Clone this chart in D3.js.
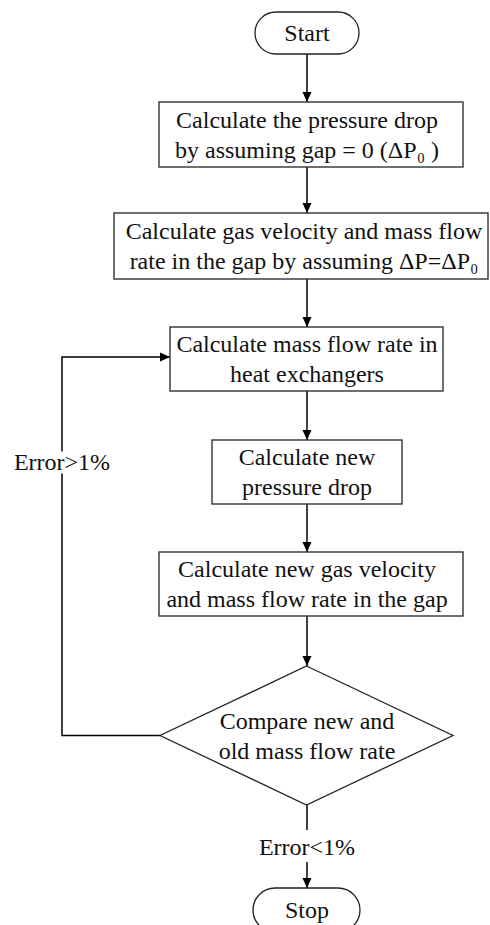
<!DOCTYPE html>
<html>
<head>
<meta charset="utf-8">
<script src="https://cdn.jsdelivr.net/npm/d3@7"></script>
<style>
  html, body { margin: 0; padding: 0; background: #fff; }
  svg { display: block; }
  text { font-family: "Liberation Serif", "Times New Roman", serif; fill: #111; }
</style>
</head>
<body>
<svg id="chart" width="490" height="925"></svg>
<script>
// ---- content ----
const startLabel = ["Start"];
const stopLabel = ["Stop"];
const box1Label = ["Calculate the pressure drop", "by assuming gap = 0 (\u0394P\u2080 )"];
const box2Label = ["Calculate gas velocity and mass flow", "rate in the gap by assuming \u0394P=\u0394P\u2080"];
const box3Label = ["Calculate mass flow rate in", "heat exchangers"];
const box4Label = ["Calculate new", "pressure drop"];
const box5Label = ["Calculate new gas velocity", "and mass flow rate in the gap"];
const decisionLabel = ["Compare new and", "old mass flow rate"];
const loopLabel = ["Error>1%"];
const exitLabel = ["Error<1%"];

// ---- layout (kept separate from content) ----
const W = 490, H = 925;
const cx = 307;
const layout = {
  start:  {x0: 255, x1: 359, y0: 12,  y1: 54,  shape: "term"},
  box1:   {x0: 159, x1: 463, y0: 102, y1: 167, shape: "rect"},
  box2:   {x0: 114, x1: 488, y0: 213, y1: 279, shape: "rect"},
  box3:   {x0: 170, x1: 443, y0: 327, y1: 391, shape: "rect"},
  box4:   {x0: 212, x1: 402, y0: 440, y1: 504, shape: "rect"},
  box5:   {x0: 159, x1: 463, y0: 552, y1: 616, shape: "rect"},
  dec:    {x0: 160, x1: 453, y0: 666, y1: 805, shape: "diamond"},
  stop:   {x0: 253, x1: 360, y0: 888, y1: 932, shape: "term"}
};
const labels = {
  start: startLabel, box1: box1Label, box2: box2Label, box3: box3Label,
  box4: box4Label, box5: box5Label, dec: decisionLabel, stop: stopLabel
};
const fontSize = 24, lineH = 30;

const svg = d3.select("#chart");
svg.append("rect").attr("width", W).attr("height", H).attr("fill", "#fff");

const defs = svg.append("defs");
defs.append("marker")
  .attr("id", "arrow")
  .attr("viewBox", "0 0 10 10")
  .attr("refX", 10).attr("refY", 5)
  .attr("markerWidth", 10).attr("markerHeight", 10)
  .attr("markerUnits", "userSpaceOnUse")
  .attr("orient", "auto")
  .append("path")
  .attr("d", "M0,0.5 L10,5 L0,9.5 Z")
  .attr("fill", "#000");

const gLinks = svg.append("g");
const gNodes = svg.append("g");
const gLabels = svg.append("g");

// connectors
const line = d3.line();
function arrow(points, withHead = true) {
  gLinks.append("path")
    .attr("d", line(points))
    .attr("fill", "none")
    .attr("stroke", "#000")
    .attr("stroke-width", 1.5)
    .attr("marker-end", withHead ? "url(#arrow)" : null);
}
const order = ["start", "box1", "box2", "box3", "box4", "box5", "dec"];
for (let i = 0; i < order.length - 1; i++) {
  const a = layout[order[i]], b = layout[order[i + 1]];
  arrow([[cx, a.y1], [cx, b.y0]]);
}
// exit branch
const dec = layout.dec;
const decCy = (dec.y0 + dec.y1) / 2;
arrow([[cx, dec.y1], [cx, 830]], false);
arrow([[cx, 862], [cx, layout.stop.y0]]);
// loop back
const loopX = 62;
const b3 = layout.box3;
const b3cy = (b3.y0 + b3.y1) / 2 - 2;
arrow([[dec.x0, decCy], [loopX, decCy], [loopX, b3cy], [b3.x0, b3cy]]);

// nodes
Object.keys(layout).forEach(key => {
  const n = layout[key];
  const g = gNodes.append("g");
  const mx = (n.x0 + n.x1) / 2, my = (n.y0 + n.y1) / 2;
  if (n.shape === "rect") {
    g.append("rect")
      .attr("x", n.x0).attr("y", n.y0)
      .attr("width", n.x1 - n.x0).attr("height", n.y1 - n.y0)
      .attr("fill", "#fff").attr("stroke", "#333").attr("stroke-width", 1.4);
  } else if (n.shape === "term") {
    const h = n.y1 - n.y0;
    g.append("rect")
      .attr("x", n.x0).attr("y", n.y0)
      .attr("width", n.x1 - n.x0).attr("height", h)
      .attr("rx", h / 2).attr("ry", h / 2)
      .attr("fill", "#fff").attr("stroke", "#222").attr("stroke-width", 1.3);
  } else {
    g.append("path")
      .attr("d", line([[mx, n.y0], [n.x1, my], [mx, n.y1], [n.x0, my]]) + "Z")
      .attr("fill", "#fff").attr("stroke", "#222").attr("stroke-width", 1.3);
  }
  const lines = labels[key];
  const textCy = (key === "stop") ? 910 : my;
  const first = textCy - (lines.length - 1) * lineH / 2;
  g.selectAll("text.l").data(lines).join("text")
    .attr("class", "l")
    .attr("x", key === "box2" ? 304 : cx)
    .attr("y", (d, i) => first + i * lineH)
    .attr("dy", "0.35em")
    .attr("text-anchor", "middle")
    .attr("font-size", fontSize)
    .text(d => d);
});

// branch labels with white knock-out behind them
function label(txt, x, y) {
  const g = gLabels.append("g");
  const bg = g.append("rect").attr("fill", "#fff");
  const t = g.append("text")
    .attr("x", x).attr("y", y).attr("dy", "0.35em")
    .attr("text-anchor", "middle").attr("font-size", fontSize)
    .text(txt);
  const bb = t.node().getBBox();
  bg.attr("x", bb.x - 2).attr("y", bb.y + 2)
    .attr("width", bb.width + 4).attr("height", bb.height - 4);
}
label(loopLabel[0], loopX, 462);
label(exitLabel[0], cx, 847);
</script>
</body>
</html>
